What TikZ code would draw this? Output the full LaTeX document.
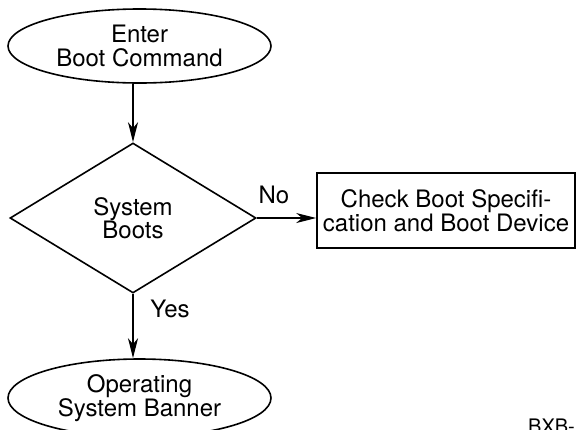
\documentclass[tikz,border=0pt]{standalone}
\usepackage{fontspec}
\setmainfont{TeX Gyre Heros}
\usetikzlibrary{shapes.geometric,arrows.meta}
\begin{document}
\begin{tikzpicture}[x=1pt,y=-1pt,
  every node/.style={font=\fontsize{24}{23.5}\selectfont, align=center, inner sep=0pt},
  terminal/.style={ellipse, draw, line width=1.6pt, minimum width=263pt, minimum height=74pt},
  decision/.style={diamond, draw, line width=1.6pt, minimum width=246pt, minimum height=150pt},
  process/.style={rectangle, draw, line width=1.6pt, minimum width=258pt, minimum height=75pt},
  flow/.style={line width=1.1pt, -{Stealth[length=20pt,width=10pt,inset=6pt]}}]
  \useasboundingbox (0,0) rectangle (577,429);
  \node[terminal] (enter) at (139.5,46) {Enter\\Boot Command};
  \node[decision] (boots) at (133,218) {System\\Boots};
  \node[process] (check) at (446,210.5) {Check Boot Specifi-\\cation and Boot Device};
  \node[terminal, minimum height=78pt] (banner) at (139.5,398) {Operating\\System Banner};
  \node[anchor=base] (no) at (274,203) {No};
  \node[anchor=base] (yes) at (170,317) {Yes};
  \node[anchor=base west, font=\fontsize{20}{20}\selectfont] (fig) at (528,433) {BXB-};
  \draw[flow] (boots.north |- enter.south) -- (boots.north);
  \draw[flow] (boots.east) -- (boots.east -| check.west);
  \draw[flow] (boots.south) -- (boots.south |- banner.north);
\end{tikzpicture}
\end{document}
